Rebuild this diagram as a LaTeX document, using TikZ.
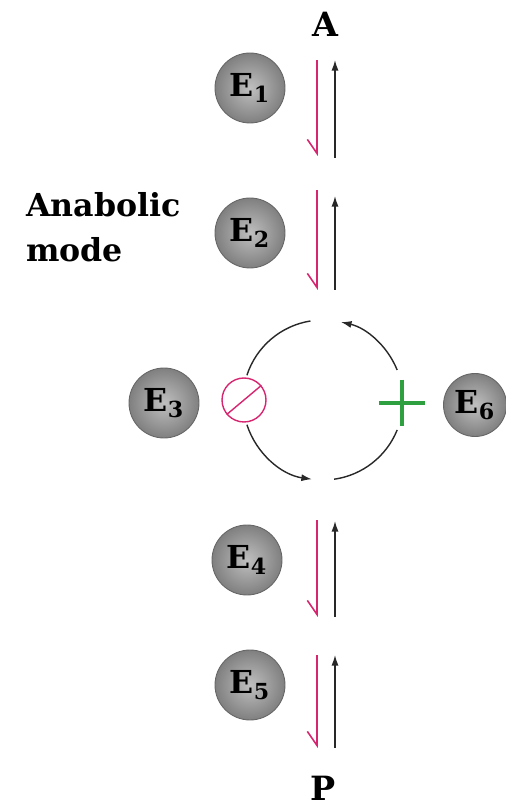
\documentclass[tikz,border=0pt]{standalone}
\usepackage{fontspec}
\setmainfont{DejaVu Serif}
\usetikzlibrary{arrows.meta}
\definecolor{inhpink}{RGB}{214,38,112}
\definecolor{actgreen}{RGB}{46,160,64}
\definecolor{flowgray}{RGB}{40,40,40}
\tikzset{
  enzyme/.style={circle, shading=radial, inner color=black!25, outer color=black!50,
    draw=black!60, line width=0.5pt, minimum size=1.4cm, inner sep=0pt,
    font=\fontsize{18}{20}\selectfont\bfseries},
  down/.style={inhpink, line width=0.9pt, -{Straight Barb[right, length=8pt, width=11pt]}},
  up/.style={flowgray, line width=0.8pt, -{Latex[length=6pt, width=4pt]}},
  cycle/.style={flowgray, line width=0.8pt},
  metab/.style={font=\fontsize{19}{21}\selectfont\bfseries}
}
\begin{document}
\begin{tikzpicture}[x=0.02cm,y=0.02cm]
\useasboundingbox (0,0) rectangle (506,808);
% end products
\node[metab] (A) at (325,784) {A};
\node[metab] (P) at (323,20) {P};
% enzymes
\node[enzyme] (e1) at (250,720) {E$_{\mathbf{1}}$};
\node[enzyme] (e2) at (250,575) {E$_{\mathbf{2}}$};
\node[enzyme] (e3) at (164,405) {E$_{\mathbf{3}}$};
\node[enzyme, minimum size=1.26cm] (e6) at (475,403) {E$_{\mathbf{6}}$};
\node[enzyme] (e4) at (247,248) {E$_{\mathbf{4}}$};
\node[enzyme] (e5) at (250,123) {E$_{\mathbf{5}}$};
\node[anchor=north west, align=left, font=\fontsize{18}{26}\selectfont\bfseries] (mode) at (20,622) {Anabolic\\mode};
% step arrows
\coordinate (d1a) at (317,748); \coordinate (d1b) at (317,652);
\coordinate (u1a) at (335,650); \coordinate (u1b) at (335,748);
\coordinate (d2a) at (317,618); \coordinate (d2b) at (317,518);
\coordinate (u2a) at (335,518); \coordinate (u2b) at (335,612);
\coordinate (d4a) at (317,288); \coordinate (d4b) at (317,191);
\coordinate (u4a) at (335,191); \coordinate (u4b) at (335,287);
\coordinate (d5a) at (317,153); \coordinate (d5b) at (317,60);
\coordinate (u5a) at (335,60); \coordinate (u5b) at (335,153);
\draw[down] (d1a) -- (d1b);
\draw[up] (u1a) -- (u1b);
\draw[down] (d2a) -- (d2b);
\draw[up] (u2a) -- (u2b);
\draw[down] (d4a) -- (d4b);
\draw[up] (u4a) -- (u4b);
\draw[down] (d5a) -- (d5b);
\draw[up] (u5a) -- (u5b);
% regulatory cycle
\coordinate (cyc) at (323,408);
\draw[cycle] ([shift={(99:80)}]cyc) arc[start angle=99, end angle=162, radius=80];
\draw[cycle, -{Latex[length=6pt, width=4pt]}] ([shift={(198:80)}]cyc) arc[start angle=198, end angle=262, radius=80];
\draw[cycle] ([shift={(-82:80)}]cyc) arc[start angle=-82, end angle=-22, radius=80];
\draw[cycle, -{Latex[length=6pt, width=4pt]}] ([shift={(22:80)}]cyc) arc[start angle=22, end angle=77, radius=80];
% inhibition and activation
\node[circle, draw=inhpink, line width=0.8pt, minimum size=0.88cm, inner sep=0pt] (inh) at (244,408) {};
\draw[inhpink, line width=0.8pt] (inh.220) -- (inh.40);
\node[minimum size=0.92cm, inner sep=0pt] (act) at (402,405) {};
\draw[actgreen, line width=2.4pt] (act.west) -- (act.east);
\draw[actgreen, line width=2.4pt] (act.north) -- (act.south);
\end{tikzpicture}
\end{document}
